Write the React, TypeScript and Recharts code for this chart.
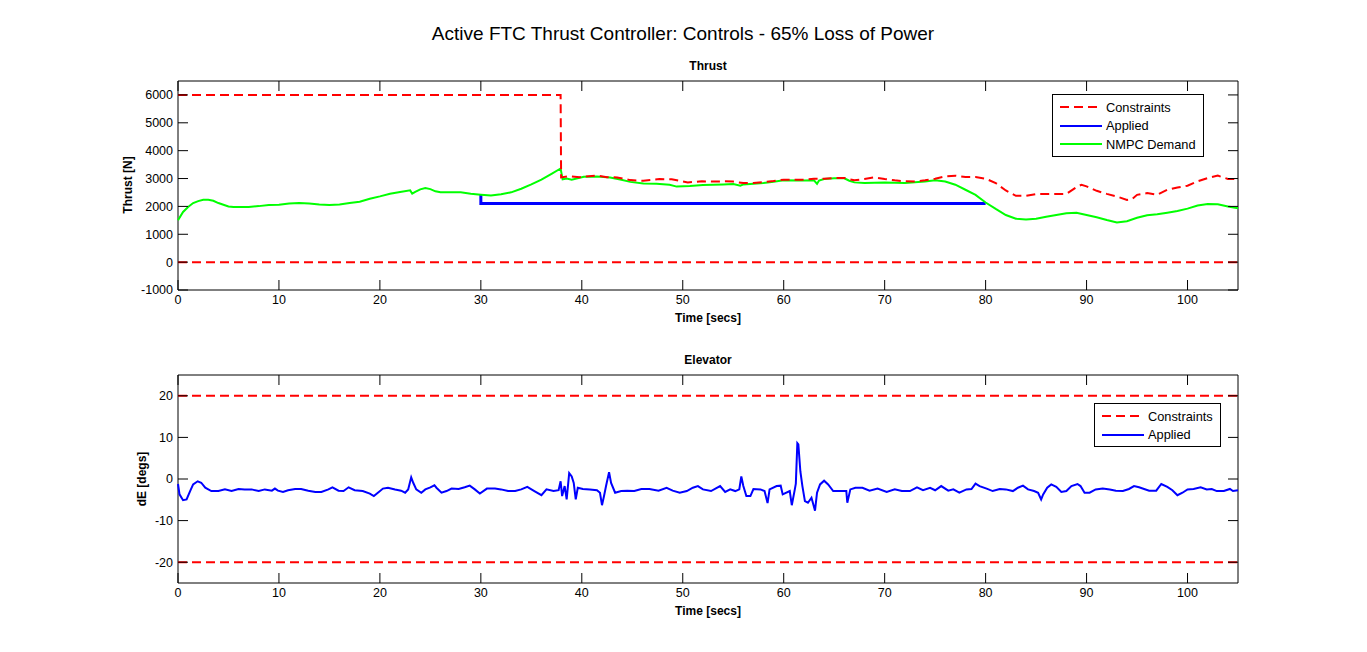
import { LineChart, Line, XAxis, YAxis, ReferenceArea, Legend } from 'recharts'

const FONT = '"Liberation Sans", Arial, Helvetica, sans-serif'
const PLOT_LEFT = 178
const PLOT_RIGHT = 1238
const PLOT_W = PLOT_RIGHT - PLOT_LEFT
const TICK = 10

const RED = '#ff0000'
const BLUE = '#0000ff'
const GREEN = '#00ff00'
const DASH = '9 5'

const timeTicks = [0, 10, 20, 30, 40, 50, 60, 70, 80, 90, 100]
const thrustTicks = [-1000, 0, 1000, 2000, 3000, 4000, 5000, 6000]
const elevatorTicks = [-20, -10, 0, 10, 20]

// [time s, thrust N]
const thrustUpper: [number, number][] = [
  [0, 6000], [37.9, 6000], [37.95, 3040], [38.7, 3086], [39.8, 3050], [41.5, 3110],
  [42.5, 3050], [43.5, 3040], [44.8, 2943], [46.1, 2920], [47.7, 2980], [48.9, 2970],
  [50.5, 2860], [51.9, 2900], [53, 2890], [54, 2900], [55, 2890], [56, 2838], [57, 2840],
  [58, 2870], [59, 2910], [60, 2959], [62, 2960], [63, 2990], [64, 2990], [65, 3019],
  [66, 3019], [67, 2935], [68, 2983], [69, 3043], [70, 2983], [71, 2935], [72, 2899],
  [73, 2890], [74, 2935], [75, 2995], [76, 3080], [77, 3104], [78, 3055], [79, 3055],
  [80, 2995], [81, 2838], [82, 2572], [83, 2379], [84, 2379], [85, 2440], [88, 2450],
  [89, 2693], [89.5, 2778], [90, 2720], [91, 2560], [92, 2450], [93, 2355], [94, 2234],
  [94.5, 2260], [95, 2415], [96, 2476], [97, 2415], [98, 2597], [99, 2681], [100, 2741],
  [101, 2899], [102, 3019], [103, 3104], [104, 2983], [105, 2983],
]
const thrustLower: [number, number][] = [[0, 0], [105, 0]]
const thrustApplied: [number, number][] = [[30, 2420], [30, 2100], [80, 2100]]
const thrustDemand: [number, number][] = [
  [0, 1500], [0.5, 1800], [1, 1980], [1.5, 2120], [2, 2190], [2.5, 2240], [3, 2240],
  [3.5, 2200], [4, 2120], [4.5, 2060], [5, 2000], [5.5, 1980], [7, 1980], [8, 2010],
  [9, 2050], [10, 2060], [11, 2100], [12, 2120], [13, 2100], [14, 2070], [15, 2050],
  [16, 2070], [17, 2120], [18, 2170], [19, 2275], [20, 2360], [21, 2455], [22, 2515],
  [23, 2575], [23.2, 2455], [23.5, 2520], [24, 2610], [24.5, 2660], [25, 2620],
  [25.5, 2540], [26, 2505], [28, 2505], [29, 2455], [30, 2420], [31, 2390], [32, 2440],
  [33, 2505], [34, 2635], [35, 2790], [36, 2960], [37, 3170], [37.9, 3360], [38.1, 2970],
  [38.5, 3000], [39, 2960], [40.2, 3060], [41.5, 3070], [42.8, 3040], [43.8, 2965],
  [44.8, 2880], [46.1, 2824], [47.4, 2810], [48.7, 2776], [49.4, 2710], [50.7, 2730],
  [52, 2770], [54, 2790], [55, 2800], [55.7, 2740], [56, 2790], [57, 2814], [58, 2838],
  [59, 2886], [60, 2935], [62, 2930], [63, 2935], [63.3, 2810], [63.5, 2930], [64, 2983],
  [65, 3007], [66, 3007], [66.5, 2920], [67, 2862], [68, 2838], [70, 2860], [72, 2838],
  [74, 2890], [75, 2935], [76, 2890], [77, 2778], [78, 2597], [79, 2415], [80, 2138],
  [81, 1908], [82, 1691], [83, 1558], [84, 1534], [85, 1558], [86, 1630], [87, 1690],
  [88, 1751], [89, 1775], [90, 1691], [91, 1610], [92, 1510], [93, 1425], [94, 1470],
  [95, 1594], [96, 1680], [97, 1715], [98, 1775], [99, 1836], [100, 1920], [101, 2029],
  [102, 2089], [103, 2075], [104, 1993], [105, 1932],
]

// [time s, elevator deg]
const elevatorUpper: [number, number][] = [[0, 20], [105, 20]]
const elevatorLower: [number, number][] = [[0, -20], [105, -20]]
const elevatorApplied: [number, number][] = [
  [0, -1.2], [0.15, -3.7], [0.5, -5.1], [0.85, -4.9], [1.2, -2.9], [1.5, -1.3], [1.95, -0.55],
  [2.3, -0.9], [2.7, -2.1], [3.3, -2.9], [4, -2.9], [4.65, -2.5], [5.3, -2.9], [6, -2.4],
  [6.6, -2.5], [7.3, -2.5], [8, -2.9], [8.6, -2.5], [9.3, -2.8], [9.6, -2.3], [9.9, -2.8],
  [10.4, -3.1], [10.9, -2.7], [11.6, -2.4], [12.2, -2.4], [12.9, -2.8], [13.6, -3.1],
  [14.2, -3.1], [14.9, -2.5], [15.3, -2.0], [15.9, -2.8], [16.4, -2.9], [16.9, -2.0],
  [17.5, -2.7], [18.3, -2.9], [19, -3.5], [19.4, -4.1], [19.8, -3.3], [20.3, -2.3],
  [20.8, -2.1], [21.5, -2.5], [22.1, -2.8], [22.5, -3.3], [22.8, -2.5], [23.1, 0.4],
  [23.3, -0.9], [23.6, -2.5], [24.1, -3.3], [24.5, -2.5], [25, -2.0], [25.4, -1.5],
  [25.6, -2.1], [26.1, -3.3], [26.6, -2.9], [27.1, -2.3], [27.8, -2.4], [28.4, -2.0],
  [28.9, -1.6], [29.4, -2.5], [29.9, -3.5], [30.6, -2.3], [31.4, -2.3], [32, -2.5],
  [32.7, -2.9], [33.4, -2.9], [34, -2.5], [34.6, -1.9], [35.3, -2.9], [36, -3.9],
  [36.5, -2.5], [37.2, -2.9], [37.7, -2.7], [37.9, -0.55], [38.05, -4.1], [38.3, -1.7],
  [38.5, -4.9], [38.75, 1.4], [39, 0.6], [39.2, -0.95], [39.4, -4.9], [39.6, -2.1],
  [40.1, -2.4], [40.8, -2.5], [41.5, -2.7], [41.8, -3.3], [42, -6.3], [42.2, -4.1],
  [42.4, -1.7], [42.7, 1.65], [42.9, -0.95], [43.3, -3.3], [43.9, -2.9], [44.5, -2.8],
  [45.2, -2.9], [45.9, -2.4], [46.7, -2.4], [47.6, -2.8], [48.4, -2.1], [49, -2.8],
  [49.7, -3.3], [50.4, -2.9], [51, -2.1], [51.5, -1.7], [52, -2.5], [52.8, -2.9],
  [53.7, -1.7], [54.2, -3.1], [54.7, -2.5], [55.2, -2.9], [55.6, -2.5], [55.8, 0.6],
  [56, -1.7], [56.3, -4.1], [56.7, -4.1], [57, -2.4], [57.7, -2.5], [58.1, -2.9],
  [58.4, -5.8], [58.6, -2.5], [59.3, -1.7], [59.7, -1.6], [59.9, -3.7], [60.6, -2.9],
  [60.8, -6.3], [61.1, -2.5], [61.2, -1.1], [61.35, 8.6], [61.45, 8.3], [61.65, 1.8],
  [61.85, -1.7], [62.1, -5.3], [62.4, -5.7], [62.75, -4.5], [63.1, -7.6], [63.3, -3.3],
  [63.6, -1.3], [64, -0.4], [64.4, -1.3], [64.9, -2.9], [65.7, -2.9], [66.2, -2.9],
  [66.3, -5.7], [66.6, -2.5], [67.1, -2.1], [67.8, -2.1], [68.5, -2.8], [69.3, -2.3],
  [70.2, -3.1], [71, -2.5], [71.7, -2.9], [72.5, -2.9], [73.2, -2.0], [73.8, -2.7],
  [74.5, -2.1], [75, -2.7], [75.6, -1.7], [76.3, -2.8], [76.8, -2.5], [77.4, -3.3],
  [78.1, -2.5], [78.6, -2.4], [79, -1.1], [79.4, -1.7], [80.1, -2.3], [80.7, -2.9],
  [81.4, -2.4], [82, -2.5], [82.7, -2.9], [83.2, -2.1], [83.7, -1.6], [84.2, -2.5],
  [84.8, -2.9], [85.2, -3.3], [85.5, -4.9], [85.7, -3.7], [86.1, -2.1], [86.5, -1.3],
  [87, -1.9], [87.5, -3.1], [88, -2.9], [88.5, -1.7], [89.1, -1.2], [89.4, -1.7],
  [89.8, -3.3], [90.3, -3.3], [90.9, -2.5], [91.6, -2.3], [92.3, -2.5], [92.9, -2.8],
  [93.6, -2.9], [94.2, -2.4], [94.7, -1.7], [95.2, -2.0], [95.7, -2.4], [96.2, -2.8],
  [96.9, -2.8], [97.4, -1.2], [98, -1.9], [98.5, -2.7], [99, -3.9], [99.5, -3.3],
  [100, -2.5], [100.6, -2.4], [101.3, -2.0], [101.9, -2.5], [102.4, -2.4], [102.9, -2.9],
  [103.6, -2.9], [104.2, -2.4], [104.5, -2.9], [105, -2.7],
]

const thrustLegend = [
  { name: 'Constraints', color: RED, dash: DASH },
  { name: 'Applied', color: BLUE },
  { name: 'NMPC Demand', color: GREEN },
]
const elevatorLegend = [
  { name: 'Constraints', color: RED, dash: DASH },
  { name: 'Applied', color: BLUE },
]

const rows = (pts: [number, number][]) => pts.map(([t, v]) => ({ t, v }))

// MATLAB style ticks: pointing into the box, on all four sides
const xTick = (plotH: number) => (props: any) => {
  const { x, y, payload } = props
  return (
    <g>
      <line x1={x} x2={x} y1={y} y2={y - TICK} stroke="#000" />
      <line x1={x} x2={x} y1={y - plotH} y2={y - plotH + TICK} stroke="#000" />
      <text x={x} y={y + 14} textAnchor="middle" fontSize={12.5} fontFamily={FONT} fill="#000">
        {payload.value}
      </text>
    </g>
  )
}

const yTick = (props: any) => {
  const { x, y, payload } = props
  return (
    <g>
      <line x1={x} x2={x + TICK} y1={y} y2={y} stroke="#000" />
      <line x1={x + PLOT_W} x2={x + PLOT_W - TICK} y1={y} y2={y} stroke="#000" />
      <text x={x - 5} y={y} dy="0.35em" textAnchor="end" fontSize={12.5} fontFamily={FONT} fill="#000">
        {payload.value}
      </text>
    </g>
  )
}

function LegendBox({ items }: { items: { name: string; color: string; dash?: string }[] }) {
  return (
    <div
      style={{
        border: '1px solid #000',
        background: '#fff',
        padding: '3px 7px 2px 7px',
        fontFamily: FONT,
        fontSize: 12.8,
        color: '#000',
      }}
    >
      {items.map((it) => (
        <div key={it.name} style={{ display: 'flex', alignItems: 'center', height: 18.5, whiteSpace: 'nowrap' }}>
          <svg width={42} height={6} style={{ marginRight: 4 }}>
            <line x1={0} x2={42} y1={3} y2={3} stroke={it.color} strokeWidth={2} strokeDasharray={it.dash} />
          </svg>
          <span>{it.name}</span>
        </div>
      ))}
    </div>
  )
}

function Label({ x, y, text, size = 12, bold = true, rotate = false }: any) {
  return (
    <div
      style={{
        position: 'absolute',
        left: x,
        top: y,
        transform: `translate(-50%, -50%)${rotate ? ' rotate(-90deg)' : ''}`,
        fontFamily: FONT,
        fontSize: size,
        fontWeight: bold ? 'bold' : 'normal',
        whiteSpace: 'nowrap',
        lineHeight: 1,
        color: '#000',
      }}
    >
      {text}
    </div>
  )
}

function Panel({ top, plotH, yDomain, yTicks, legend, legendPos, children }: any) {
  const plotTop = 81
  return (
    <div style={{ position: 'absolute', left: 0, top }}>
      <LineChart
        width={1367}
        height={plotTop + plotH + 30}
        margin={{ top: plotTop, right: 1367 - PLOT_RIGHT, bottom: 0, left: 0 }}
      >
        <XAxis
          dataKey="t"
          type="number"
          domain={[0, 105]}
          ticks={timeTicks}
          tick={xTick(plotH)}
          tickLine={false}
          tickSize={0}
          tickMargin={0}
          axisLine={false}
          height={30}
        />
        <YAxis
          type="number"
          domain={yDomain}
          ticks={yTicks}
          tick={yTick}
          tickLine={false}
          tickSize={0}
          tickMargin={0}
          axisLine={false}
          width={PLOT_LEFT}
        />
        <ReferenceArea x1={0} x2={105} y1={yDomain[0]} y2={yDomain[1]} fill="none" stroke="#000" strokeWidth={1} />
        {children}
        <Legend
          layout="vertical"
          align="center"
          verticalAlign="middle"
          wrapperStyle={{ left: legendPos[0], top: legendPos[1] }}
          content={() => <LegendBox items={legend} />}
        />
      </LineChart>
    </div>
  )
}

export default function App() {
  return (
    <div style={{ position: 'absolute', left: 0, top: 0, width: 1367, height: 652, background: '#fff' }}>
      <Label x={683} y={33} text="Active FTC Thrust Controller: Controls - 65% Loss of Power" size={19} bold={false} />
      <Label x={708} y={66} text="Thrust" />
      <Label x={708} y={318} text="Time [secs]" />
      <Label x={128} y={185} text="Thrust [N]" rotate />
      <Label x={708} y={360} text="Elevator" />
      <Label x={708} y={611} text="Time [secs]" />
      <Label x={142} y={479} text="dE [degs]" rotate />

      <Panel top={0} plotH={209} yDomain={[-1000, 6500]} yTicks={thrustTicks} legend={thrustLegend} legendPos={[1052, 94]}>
        <Line data={rows(thrustApplied)} dataKey="v" name="Applied" stroke={BLUE} strokeWidth={3} dot={false} isAnimationActive={false} />
        <Line data={rows(thrustDemand)} dataKey="v" name="NMPC Demand" stroke={GREEN} strokeWidth={2} dot={false} isAnimationActive={false} />
        <Line data={rows(thrustUpper)} dataKey="v" name="Constraints" stroke={RED} strokeWidth={2} strokeDasharray={DASH} dot={false} isAnimationActive={false} />
        <Line data={rows(thrustLower)} dataKey="v" name="Constraints" stroke={RED} strokeWidth={2} strokeDasharray={DASH} dot={false} legendType="none" isAnimationActive={false} />
      </Panel>

      <Panel top={294} plotH={208} yDomain={[-25, 25]} yTicks={elevatorTicks} legend={elevatorLegend} legendPos={[1094, 109]}>
        <Line data={rows(elevatorUpper)} dataKey="v" name="Constraints" stroke={RED} strokeWidth={2} strokeDasharray={DASH} dot={false} isAnimationActive={false} />
        <Line data={rows(elevatorLower)} dataKey="v" name="Constraints" stroke={RED} strokeWidth={2} strokeDasharray={DASH} dot={false} legendType="none" isAnimationActive={false} />
        <Line data={rows(elevatorApplied)} dataKey="v" name="Applied" stroke={BLUE} strokeWidth={2} dot={false} isAnimationActive={false} />
      </Panel>
    </div>
  )
}
